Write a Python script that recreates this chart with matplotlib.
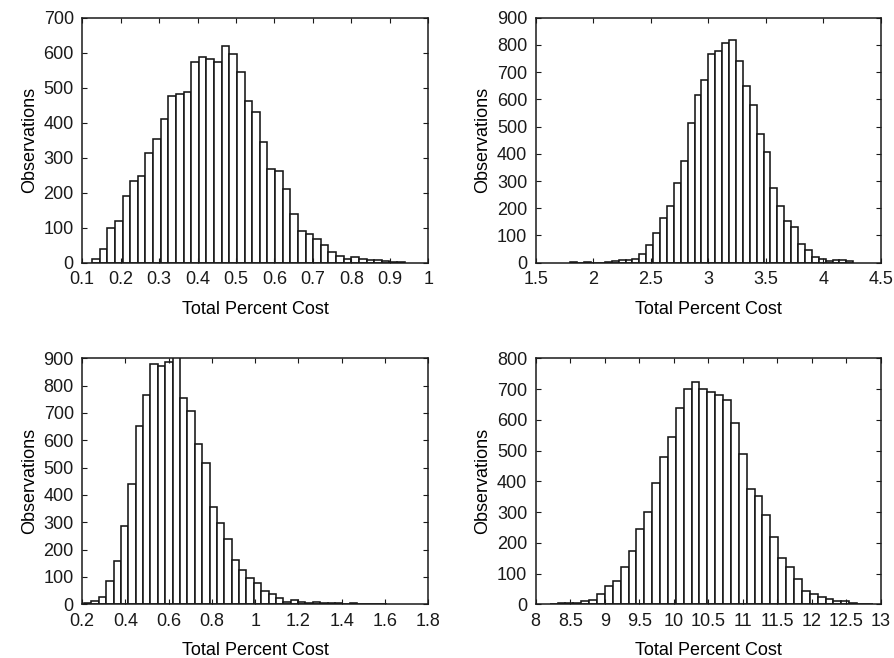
import numpy as np
import matplotlib
matplotlib.use("Agg")
import matplotlib.pyplot as plt

plt.rcParams['font.family'] = ['Liberation Sans', 'DejaVu Sans']

# Panel 1 (top-left)
p1_start = 0.1255
p1_width = 0.01984
p1_counts = [12, 39, 99, 120, 192, 233, 249, 314, 354, 410, 476, 483, 489, 573, 587,
             583, 573, 620, 595, 544, 463, 430, 344, 268, 263, 210, 139, 90, 83, 69,
             50, 30, 18, 11, 16, 10, 7, 7, 4, 3, 2]
p1_xlim = (0.1, 1.0)
p1_xticks = [0.1, 0.2, 0.3, 0.4, 0.5, 0.6, 0.7, 0.8, 0.9, 1.0]
p1_xticklabels = ['0.1', '0.2', '0.3', '0.4', '0.5', '0.6', '0.7', '0.8', '0.9', '1']
p1_ylim = (0, 700)

# Panel 2 (top-right)
p2_start = 1.8009
p2_width = 0.05995
p2_counts = [2, 0, 2, 0, 0, 2, 5, 9, 10, 14, 33, 66, 110, 164, 208, 291, 372, 514, 616,
             671, 768, 778, 807, 817, 740, 650, 581, 473, 405, 273, 208, 154, 131, 67,
             45, 21, 15, 6, 11, 9, 7]
p2_xlim = (1.5, 4.5)
p2_xticks = [1.5, 2, 2.5, 3, 3.5, 4, 4.5]
p2_xticklabels = ['1.5', '2', '2.5', '3', '3.5', '4', '4.5']
p2_ylim = (0, 900)

# Panel 3 (bottom-left)
p3_start = 0.2083
p3_width = 0.03414
p3_counts = [3, 12, 27, 87, 157, 287, 441, 651, 767, 880, 872, 888, 905, 756, 707, 588,
             518, 355, 299, 238, 163, 124, 98, 77, 47, 36, 22, 10, 17, 8, 6, 10, 6, 3,
             3, 1, 3, 0, 2, 2, 2]
p3_xlim = (0.2, 1.8)
p3_xticks = [0.2, 0.4, 0.6, 0.8, 1.0, 1.2, 1.4, 1.6, 1.8]
p3_xticklabels = ['0.2', '0.4', '0.6', '0.8', '1', '1.2', '1.4', '1.6', '1.8']
p3_ylim = (0, 900)

# Panel 4 (bottom-right)
p4_start = 8.203
p4_width = 0.1141
p4_counts = [2, 4, 5, 4, 11, 14, 33, 61, 76, 122, 172, 245, 300, 393, 479, 545, 637, 700,
             722, 700, 689, 682, 666, 590, 488, 374, 353, 289, 219, 150, 121, 81, 42, 33,
             24, 16, 11, 11, 5, 2, 1]
p4_xlim = (8, 13)
p4_xticks = [8, 8.5, 9, 9.5, 10, 10.5, 11, 11.5, 12, 12.5, 13]
p4_xticklabels = ['8', '8.5', '9', '9.5', '10', '10.5', '11', '11.5', '12', '12.5', '13']
p4_ylim = (0, 800)

xlabel = 'Total Percent Cost'
ylabel = 'Observations'

W, H = 895, 658
fig = plt.figure(figsize=(W / 100, H / 100), dpi=100)

def rect(x0, y0, x1, y1):
    return [x0 / W, 1 - y1 / H, (x1 - x0) / W, (y1 - y0) / H]

panels = [
    (rect(82.2, 17.7, 428.2, 262.7), p1_start, p1_width, p1_counts, p1_xlim, p1_xticks, p1_xticklabels, p1_ylim),
    (rect(535.7, 17.7, 881.0, 262.7), p2_start, p2_width, p2_counts, p2_xlim, p2_xticks, p2_xticklabels, p2_ylim),
    (rect(82.2, 358.3, 428.2, 604.3), p3_start, p3_width, p3_counts, p3_xlim, p3_xticks, p3_xticklabels, p3_ylim),
    (rect(535.7, 358.3, 881.0, 604.3), p4_start, p4_width, p4_counts, p4_xlim, p4_xticks, p4_xticklabels, p4_ylim),
]

FS = 13

for r, start, width, counts, xlim, xt, xtl, ylim in panels:
    ax = fig.add_axes(r)
    counts = np.asarray(counts, dtype=float)
    lefts = start + width * np.arange(len(counts))
    ax.bar(lefts, counts, width=width, align='edge', color='white',
           edgecolor='#151515', linewidth=1.15)
    ax.set_xlim(*xlim)
    ax.set_ylim(*ylim)
    ax.set_xticks(xt)
    ax.set_xticklabels(xtl)
    ax.set_yticks(np.arange(ylim[0], ylim[1] + 1, 100))
    ax.tick_params(direction='in', top=True, right=True, length=3.5, width=0.8,
                   labelsize=FS, colors='#1a1a1a', pad=6)
    for s in ax.spines.values():
        s.set_linewidth(1.1)
        s.set_color('#1a1a1a')
    ax.set_xlabel(xlabel, fontsize=FS, labelpad=9)
    ax.set_ylabel(ylabel, fontsize=FS, labelpad=4)

fig.savefig('out.png', dpi=100)
